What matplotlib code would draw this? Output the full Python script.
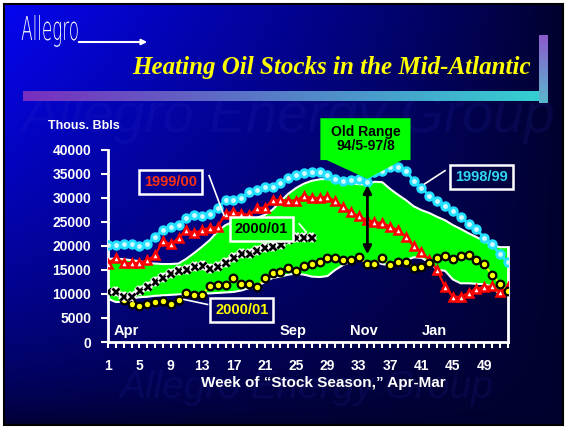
import numpy as np
import matplotlib.pyplot as plt
from matplotlib import patheffects
from matplotlib.patches import Polygon, Rectangle, PathPatch
from matplotlib.textpath import TextPath
from matplotlib.font_manager import FontProperties
from matplotlib.transforms import Affine2D

plt.rcParams['font.family'] = ['Liberation Sans', 'DejaVu Sans']
plt.rcParams['font.weight'] = 'bold'

# weekly data, week 1 = first week of April
weeks = np.arange(1, 53)

range_low = [9000, 8300, 8400, 9100, 9300, 9400, 9600, 9700, 9800, 9900,
             10000, 10100, 10100, 10100, 10200, 10300, 10400, 10700, 11200, 11500,
             12500, 13300, 13600, 14000, 14200, 14000, 13600, 13500, 13700, 15000,
             16000, 16700, 17200, 16600, 16600, 16200, 15900, 16300, 17000, 17600,
             17500, 16500, 15000, 14800, 13000, 12200, 12200, 12100, 12000, 11600,
             9800, 10000]
range_high = [17300, 17300, 17200, 17000, 16800, 16400, 16300, 16200, 16200, 16300,
              17300, 18500, 19800, 21200, 23000, 24300, 25000, 25300, 25500, 25800,
              26400, 27500, 29200, 30800, 32000, 32900, 33500, 33800, 33900, 33500,
              33200, 33000, 32800, 32700, 33300, 33200, 31800, 30600, 29500, 28200,
              27400, 26800, 26000, 25300, 24300, 23500, 22600, 21800, 21000, 20200,
              19700, 19700]

stocks_9899 = [20200, 20200, 20300, 20300, 19900, 20300, 21900, 23300, 24000, 24400,
               25800, 26400, 26100, 26500, 27900, 29500, 29500, 29900, 31100, 31600,
               32300, 32200, 33000, 34000, 34600, 35100, 35250, 35300, 34700, 33900,
               33400, 33700, 33900, 33300, 35250, 35600, 36400, 36400, 35600, 33500,
               32000, 30400, 29400, 28200, 27300, 25900, 24600, 23500, 21600, 20300,
               18200, 16600]
stocks_9900 = [16300, 17500, 16400, 16400, 16400, 17000, 18000, 21000, 20300, 21600,
               23300, 22600, 23300, 23700, 23900, 26700, 27000, 26700, 26400, 27800,
               27900, 29500, 29500, 29400, 29400, 30400, 29950, 29950, 30200, 29200,
               28000, 27000, 26100, 25400, 24900, 24700, 24000, 23200, 21900, 19900,
               18700, 17100, 14900, 11450, 9400, 9400, 10200, 11100, 11450, 11600,
               10400, 11450]
# current season, weeks 1-27
stocks_0001 = [10400, 10400, 9400, 9500, 10700, 11450, 12500, 13500, 14200, 14900,
               15000, 15700, 15900, 15250, 15700, 16600, 17500, 18300, 18300, 19000,
               19600, 19900, 20300, 21300, 21800, 21800, 21800]
# yellow series, weeks 3-52
stocks_yellow = [8700, 8000, 7500, 8000, 8350, 8550, 8000, 8700, 10080, 9870,
                 9870, 11600, 11940, 11940, 13200, 12000, 12000, 11450, 13200, 14350,
                 14560, 15400, 14700, 15700, 16300, 16600, 17500, 17500, 17000, 17100,
                 17650, 16300, 16300, 17500, 15900, 16600, 16600, 15460, 15600, 16400,
                 17500, 17860, 17300, 17860, 18000, 17100, 16150, 13900, 12150, 10630]

week_labels = [1, 5, 9, 13, 17, 21, 25, 29, 33, 37, 41, 45, 49]
y_ticks = [0, 5000, 10000, 15000, 20000, 25000, 30000, 35000, 40000]

W, H = 567, 428
fig = plt.figure(figsize=(W / 100, H / 100), dpi=100)
fig.patch.set_facecolor('white')

# background layer in pixel coords
bg = fig.add_axes([0, 0, 1, 1])
bg.set_xlim(0, W)
bg.set_ylim(H, 0)
bg.axis('off')
gx, gy = np.meshgrid(np.linspace(0, 1, 300), np.linspace(0, 1, 220))
b = 45 + 195 * (1 - gx) ** 0.9 * (1 - gy) ** 0.6
img = np.dstack([b * 0.02, b * 0.02, b]) / 255
bg.imshow(img, extent=[4, 563, 425, 4], aspect='auto', zorder=0)
bg.add_patch(Rectangle((4, 4), 559, 421, fill=False, ec='black', lw=1.5, zorder=1))

# faint watermark
bg.text(22, 118, "Allegro Energy Group", fontsize=40, color='#3434c8', alpha=0.13,
        weight='normal', style='italic', va='center', ha='left', zorder=1)
bg.text(120, 388, "Allegro Energy Group", fontsize=28, color='#3434c8', alpha=0.13,
        weight='normal', style='italic', va='center', ha='left', zorder=1)

# title bar
t = np.linspace(0, 1, 256)
c0, c1 = np.array([0.47, 0.18, 0.75]), np.array([0.2, 0.82, 0.82])
bar = (c0[None, :] * (1 - t[:, None]) + c1[None, :] * t[:, None])[None, :, :]
bg.imshow(bar, extent=[23, 543, 101, 91], aspect='auto', zorder=2)
v0, v1 = np.array([0.55, 0.35, 0.8]), np.array([0.35, 0.72, 0.8])
vbar = (v0[None, :] * (1 - t[:, None]) + v1[None, :] * t[:, None])[:, None, :]
bg.imshow(vbar, extent=[539, 548, 103, 35], aspect='auto', zorder=2)

# thin condensed "Allegro" logo
tp = TextPath((0, 0), "Allegro", size=33,
              prop=FontProperties(family='DejaVu Sans', weight='light'))
ext = tp.get_extents()
sx = 56 / ext.width
logo = Affine2D().translate(-ext.x0, 0).scale(sx, -1).translate(21.7, 40).transform_path(tp)
bg.add_patch(PathPatch(logo, fc='white', ec='none', zorder=3))
bg.annotate('', xy=(150, 42), xytext=(76, 42),
            arrowprops=dict(arrowstyle='-|>', color='white', lw=1.5, mutation_scale=8))
bg.text(331, 67, "Heating Oil Stocks in the Mid-Atlantic", color='#ffff00', fontsize=18,
        family=['Liberation Serif', 'DejaVu Serif'], weight='bold', style='italic',
        ha='center', va='center', zorder=3)

# chart
ax = fig.add_axes([108 / W, 1 - 342 / H, (507.7 - 108) / W, (342 - 149.5) / H])
ax.patch.set_visible(False)
ax.set_xlim(1, 52)
ax.set_ylim(0, 40000)

ax.fill_between(weeks, range_low, range_high, color='#00ff00', lw=0, zorder=1)
ax.plot(weeks, range_high, color='white', lw=1.5, zorder=2)
ax.plot(weeks, range_low, color='white', lw=1.5, zorder=2)
ax.plot([52, 52], [0, range_high[-1]], color='white', lw=2, zorder=2, clip_on=False)

ax.plot(weeks, stocks_9899, color='#22e0ff', lw=2, marker='o', ms=5.5,
        mfc='#d0faff', mec='#22e0ff', mew=2, zorder=4)
ax.plot(weeks, stocks_9900, color='#ff0000', lw=1.6, marker='^', ms=6,
        mfc='white', mec='#ff0000', mew=1.8, zorder=4)
ax.plot(weeks[2:], stocks_yellow, color='#ffff00', lw=1.3, marker='o', ms=5.5,
        mfc='#ffff00', mec='black', mew=1.6, zorder=5)
ax.plot(weeks[:27], stocks_0001, color='black', lw=1, marker='x', ms=5, mew=2,
        zorder=5, path_effects=[patheffects.withStroke(linewidth=4, foreground='white')])

# old range callout and arrow
callout = Polygon([(28.1, 46500), (39.6, 46500), (39.6, 37800), (38.5, 37800),
                   (34.1, 33900), (28.9, 37800), (28.1, 37800)],
                  closed=True, fc='#00ff00', ec='none', clip_on=False, zorder=6)
ax.add_patch(callout)
ax.text(33.9, 42150, "Old Range\n94/5-97/8", color='black', fontsize=10, ha='center',
        va='center', linespacing=1.05, zorder=7)
ax.annotate('', xy=(34.1, 33200), xytext=(34.1, 17650),
            arrowprops=dict(arrowstyle='<|-|>', color='black', lw=2, mutation_scale=12),
            zorder=6)


def boxed(x, y, s, color, face):
    ax.text(x, y, s, color=color, fontsize=10.5, ha='center', va='center', zorder=8,
            bbox=dict(boxstyle='square,pad=0.35', fc=face, ec='white', lw=1.8))


def pointer(x0, y0, x1, y1):
    ax.plot([x0, x1], [y0, y1], color='white', lw=1.2, zorder=7, clip_on=False)


boxed(9.0, 33300, "1999/00", '#ff3010', 'none')
pointer(13.9, 34570, 15.8, 26290)
boxed(20.6, 23540, "2000/01", 'black', '#00ff00')
pointer(25.4, 24570, 26.3, 22830)
boxed(48.6, 34360, "1998/99", '#30d8f0', 'none')
pointer(44.0, 35600, 41.4, 32850)
boxed(18.05, 6690, "2000/01", '#ffff00', 'none')
pointer(13.7, 7800, 10.7, 8840)

for name, wk in [("Apr", 3.3), ("Sep", 24.6), ("Nov", 33.6), ("Jan", 42.6)]:
    ax.text(wk, 2300, name, color='white', fontsize=10.5, ha='center', va='center', zorder=6)

ax.set_xticks(weeks)
ax.set_xticklabels([str(w) if w in week_labels else '' for w in weeks])
ax.set_yticks(y_ticks)
ax.set_yticklabels([str(v) for v in y_ticks])
ax.tick_params(axis='x', direction='out', length=4, width=1.5, colors='white',
               labelsize=10, pad=8)
ax.tick_params(axis='y', direction='out', length=5, width=1.5, colors='white',
               labelsize=10, pad=7)
for side in ['top', 'right']:
    ax.spines[side].set_visible(False)
for side in ['left', 'bottom']:
    ax.spines[side].set_color('white')
    ax.spines[side].set_linewidth(2)

fig.text(48 / W, 1 - 126 / H, "Thous. Bbls", color='white', fontsize=9, ha='left', va='center')
fig.text(323 / W, 1 - 383 / H, "Week of \u201cStock Season,\u201d Apr-Mar", color='white',
         fontsize=11, ha='center', va='center')

fig.savefig("out.png", dpi=100, facecolor=fig.get_facecolor())
